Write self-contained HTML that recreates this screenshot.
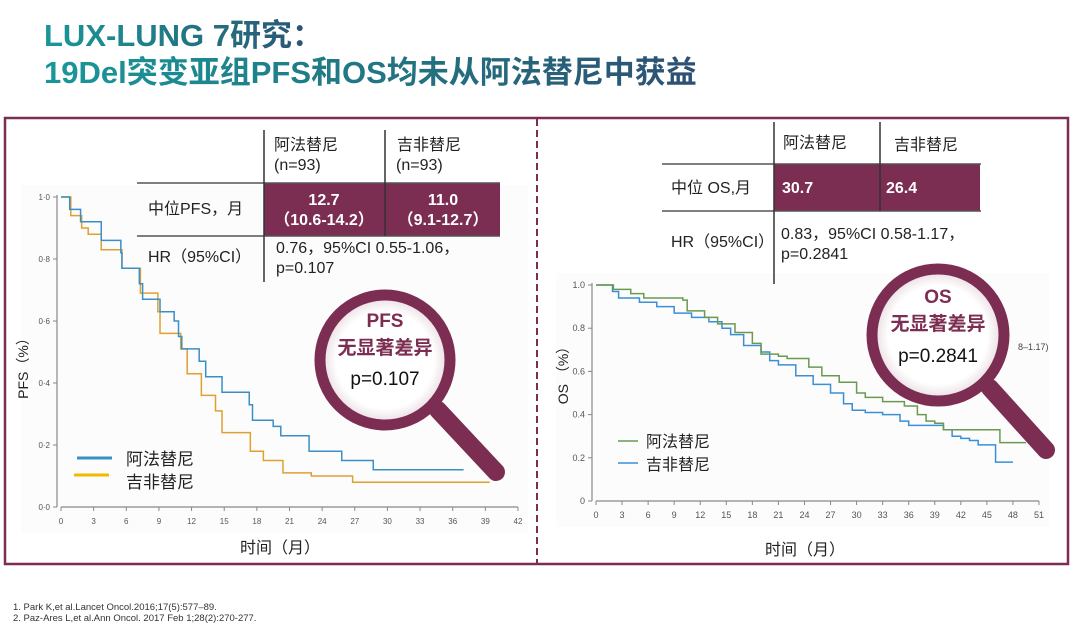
<!DOCTYPE html>
<html><head><meta charset="utf-8">
<style>
html,body{margin:0;padding:0;background:#fff;}
svg{display:block;font-family:"Liberation Sans","Noto Sans CJK SC",sans-serif;}
</style></head>
<body>
<svg id="s" width="1080" height="623" viewBox="0 0 1080 623" xmlns="http://www.w3.org/2000/svg">
<defs>
<linearGradient id="tg" x1="0" x2="1" y1="0" y2="0">
<stop offset="0" stop-color="#19979a"/><stop offset="0.6" stop-color="#23707f"/><stop offset="1" stop-color="#2d4f73"/>
</linearGradient>
<radialGradient id="lens"><stop offset="0.75" stop-color="#fff"/><stop offset="1" stop-color="#e6d7de"/></radialGradient>
</defs>
<g fill="url(#tg)" font-weight="bold" font-size="31">
<text x="44" y="46">LUX-LUNG 7研究：</text>
<text x="44" y="83">19Del突变亚组PFS和OS均未从阿法替尼中获益</text>
</g>
<rect x="5" y="118" width="1063" height="446" fill="none" stroke="#7b2d52" stroke-width="2.5"/>
<line x1="537" y1="119" x2="537" y2="563" stroke="#7b2d52" stroke-width="2" stroke-dasharray="7,4"/>

<g id="pfs"></g>
<g id="os"></g>

<!-- PFS table -->
<g font-size="16" fill="#222">
<rect x="264" y="183" width="236" height="53" fill="#7b2d52"/>
<line x1="137" y1="183" x2="500" y2="183" stroke="#555" stroke-width="1.5"/>
<line x1="137" y1="236" x2="500" y2="236" stroke="#555" stroke-width="1.5"/>
<line x1="264" y1="130" x2="264" y2="282" stroke="#333" stroke-width="1.5"/>
<line x1="385" y1="130" x2="385" y2="236" stroke="#333" stroke-width="1.5"/>
<text x="274" y="150">阿法替尼</text><text x="274" y="170">(n=93)</text>
<text x="397" y="150">吉非替尼</text><text x="396" y="170">(n=93)</text>
<text x="148" y="214">中位PFS，月</text>
<text x="148" y="262">HR（95%CI）</text>
<text x="324" y="205" fill="#fff" font-weight="bold" text-anchor="middle">12.7</text>
<text x="324" y="225" fill="#fff" font-weight="bold" text-anchor="middle">（10.6-14.2）</text>
<text x="443" y="205" fill="#fff" font-weight="bold" text-anchor="middle">11.0</text>
<text x="443" y="225" fill="#fff" font-weight="bold" text-anchor="middle">（9.1-12.7）</text>
<text x="276" y="253">0.76，95%CI 0.55-1.06，</text>
<text x="276" y="273">p=0.107</text>
</g>

<!-- OS table -->
<g font-size="16" fill="#222">
<rect x="774" y="164" width="206" height="47" fill="#7b2d52"/>
<line x1="662" y1="164" x2="981" y2="164" stroke="#555" stroke-width="1.5"/>
<line x1="662" y1="211" x2="981" y2="211" stroke="#555" stroke-width="1.5"/>
<line x1="774" y1="122" x2="774" y2="284" stroke="#333" stroke-width="1.5"/>
<line x1="880" y1="122" x2="880" y2="211" stroke="#333" stroke-width="1.5"/>
<text x="783" y="148">阿法替尼</text>
<text x="894" y="150">吉非替尼</text>
<text x="671" y="193">中位 OS,月</text>
<text x="671" y="247">HR（95%CI）</text>
<text x="782" y="193" fill="#fff" font-weight="bold">30.7</text>
<text x="886" y="193" fill="#fff" font-weight="bold">26.4</text>
<text x="781" y="239">0.83，95%CI 0.58-1.17，</text>
<text x="781" y="259">p=0.2841</text>
</g>
<text x="1018" y="350" font-size="9" fill="#444">8–1.17)</text>

<g font-size="17" fill="#222">
<line x1="77" y1="458" x2="112" y2="458" stroke="#3a8fc7" stroke-width="3"/>
<line x1="74" y1="475" x2="109" y2="475" stroke="#f5b800" stroke-width="3"/>
<text x="126" y="465">阿法替尼</text><text x="126" y="488">吉非替尼</text>
</g>
<g font-size="16" fill="#222">
<line x1="618" y1="441" x2="638" y2="441" stroke="#6a9a50" stroke-width="1.5"/>
<line x1="618" y1="463" x2="638" y2="463" stroke="#3a8fd6" stroke-width="1.5"/>
<text x="646" y="447">阿法替尼</text><text x="646" y="470">吉非替尼</text>
</g>
<text x="280" y="553" font-size="16" text-anchor="middle" fill="#222">时间（月）</text>
<text x="805" y="555" font-size="16" text-anchor="middle" fill="#222">时间（月）</text>
<text transform="translate(28,365) rotate(-90)" font-size="14" text-anchor="middle" fill="#222">PFS（%）</text>
<text transform="translate(568,372) rotate(-90)" font-size="14" text-anchor="middle" fill="#222">OS （%）</text>

<!-- magnifiers -->
<g>
<line x1="438" y1="410" x2="496" y2="472" stroke="#7b2d52" stroke-width="18" stroke-linecap="round"/>
<circle cx="385" cy="360" r="65" fill="url(#lens)" stroke="#7b2d52" stroke-width="11"/>
<text x="385" y="327" text-anchor="middle" font-size="19" font-weight="bold" fill="#7b2d52">PFS</text>
<text x="385" y="354" text-anchor="middle" font-size="19" font-weight="bold" fill="#7b2d52">无显著差异</text>
<text x="385" y="385" text-anchor="middle" font-size="19" fill="#111">p=0.107</text>
</g>
<g>
<line x1="990" y1="388" x2="1046" y2="450" stroke="#7b2d52" stroke-width="18" stroke-linecap="round"/>
<circle cx="938" cy="335" r="66" fill="url(#lens)" stroke="#7b2d52" stroke-width="11"/>
<text x="938" y="303" text-anchor="middle" font-size="19" font-weight="bold" fill="#7b2d52">OS</text>
<text x="938" y="330" text-anchor="middle" font-size="19" font-weight="bold" fill="#7b2d52">无显著差异</text>
<text x="938" y="362" text-anchor="middle" font-size="19" fill="#111">p=0.2841</text>
</g>

<g font-size="9.5" fill="#333">
<text x="13" y="610">1. Park K,et al.Lancet Oncol.2016;17(5):577–89.</text>
<text x="13" y="621">2. Paz-Ares L,et al.Ann Oncol. 2017 Feb 1;28(2):270-277.</text>
</g>
</svg>
<script>
// PFS data (months, survival)
const pfsXTicks = [0,3,6,9,12,15,18,21,24,27,30,33,36,39,42];
const pfsYTicks = [0,0.2,0.4,0.6,0.8,1.0];
const pfsYLabels = ["0·0","0·2","0·4","0·6","0·8","1·0"];
const pfsAfaT = [0,0.8,1.8,3.5,3.7,5.5,5.6,7.2,7.5,9.1,10.4,10.8,11.1,12.7,13.3,14.8,17.3,17.6,19.5,20.2,22.8,25.8,28.7,37.0];
const pfsAfaS = [1.0,0.96,0.92,0.92,0.86,0.82,0.77,0.72,0.67,0.63,0.60,0.55,0.51,0.47,0.42,0.37,0.33,0.28,0.26,0.23,0.18,0.15,0.12,0.12];
const pfsGefT = [0,0.9,1.9,2.5,3.7,5.6,7.3,8.9,9.1,11.0,11.6,12.9,14.2,14.8,17.4,18.6,20.4,23.0,26.8,39.4];
const pfsGefS = [1.0,0.94,0.90,0.88,0.83,0.77,0.69,0.63,0.56,0.51,0.43,0.36,0.31,0.24,0.18,0.15,0.11,0.10,0.08,0.08];
// OS data
const osXTicks = [0,3,6,9,12,15,18,21,24,27,30,33,36,39,42,45,48,51];
const osYTicks = [0,0.2,0.4,0.6,0.8,1.0];
const osYLabels = ["0","0.2","0.4","0.6","0.8","1.0"];
const osAfaT = [0,2.0,4,5.5,10,10.5,12.5,14,16,18,19,21,22,24.5,26,28,30,31,33,35.5,37,38,39,40,46.5,49.5];
const osAfaS = [1.0,0.98,0.96,0.94,0.93,0.88,0.85,0.82,0.78,0.73,0.68,0.67,0.66,0.62,0.58,0.55,0.50,0.48,0.46,0.44,0.40,0.37,0.36,0.33,0.27,0.27];
const osGefT = [0,1.9,2.6,5,7,9,11,13,14.5,15.5,17,19,20,21,23,25,27,28.5,29.5,31,33,35,36,40,41,42,43,44,46,48];
const osGefS = [1.0,0.97,0.94,0.92,0.90,0.87,0.85,0.83,0.80,0.77,0.72,0.69,0.65,0.63,0.58,0.54,0.50,0.45,0.42,0.41,0.40,0.37,0.35,0.33,0.30,0.29,0.28,0.26,0.18,0.18];

const NS='http://www.w3.org/2000/svg';
function mk(tag,attrs,parent){const e=document.createElementNS(NS,tag);for(const k in attrs)e.setAttribute(k,attrs[k]);parent.appendChild(e);return e;}

function drawChart(g,cfg){
  const sx=v=>cfg.x0+(v-cfg.xmin)/(cfg.xmax-cfg.xmin)*(cfg.x1-cfg.x0);
  const sy=v=>cfg.y0-(v)*(cfg.y0-cfg.y1);
  mk('rect',{x:cfg.x0-40,y:cfg.y1-12,width:cfg.x1-cfg.x0+50,height:cfg.y0-cfg.y1+38,fill:'#fcfcfc'},g);
  const ax=mk('line',{x1:cfg.x0,y1:cfg.y0,x2:cfg.x1,y2:cfg.y0,stroke:'#888','stroke-width':1.2},g);
  
  
  const ay=mk('line',{x1:cfg.x0-4,y1:cfg.y0,x2:cfg.x0-4,y2:cfg.y1-2,stroke:'#888','stroke-width':1.2},g);
  
  
  cfg.xt.forEach(t=>{
    mk('line',{x1:sx(t),y1:cfg.y0,x2:sx(t),y2:cfg.y0+4,stroke:'#888'},g);
    const tx=mk('text',{x:sx(t),y:cfg.y0+17,'font-size':cfg.tfs,fill:'#555','text-anchor':'middle'},g);
    tx.textContent=t;
    
    
  });
  cfg.yt.forEach((t,i)=>{
    mk('line',{x1:cfg.x0-8,y1:sy(t),x2:cfg.x0-4,y2:sy(t),stroke:'#888'},g);
    const ty=mk('text',{x:cfg.x0-11,y:sy(t)+3,'font-size':cfg.tfs,fill:'#555','text-anchor':'end'},g);
    ty.textContent=cfg.yl[i];
    
    
  });
  cfg.series.forEach(s=>{
    let d='M'+sx(s.t[0])+','+sy(s.s[0]);
    for(let i=1;i<s.t.length;i++){d+=' H'+sx(s.t[i])+' V'+sy(s.s[i]);}
    const p=mk('path',{d:d,fill:'none',stroke:s.c,'stroke-width':1.5},g);
    
    
  });
}

drawChart(document.getElementById('pfs'),{x0:61,x1:518,y0:507,y1:197,xmin:0,xmax:42,xt:pfsXTicks,yt:pfsYTicks,yl:pfsYLabels,tfs:8,
  series:[{t:pfsGefT,s:pfsGefS,c:'#e0a030',name:'pfs-gefitinib-line'},{t:pfsAfaT,s:pfsAfaS,c:'#3a8fc7',name:'pfs-afatinib-line'}]});
drawChart(document.getElementById('os'),{x0:596,x1:1039,y0:501,y1:285,xmin:0,xmax:51,xt:osXTicks,yt:osYTicks,yl:osYLabels,tfs:9,
  series:[{t:osGefT,s:osGefS,c:'#3a8fd6',name:'os-gefitinib-line'},{t:osAfaT,s:osAfaS,c:'#6a9a50',name:'os-afatinib-line'}]});
</script>
</body></html>
